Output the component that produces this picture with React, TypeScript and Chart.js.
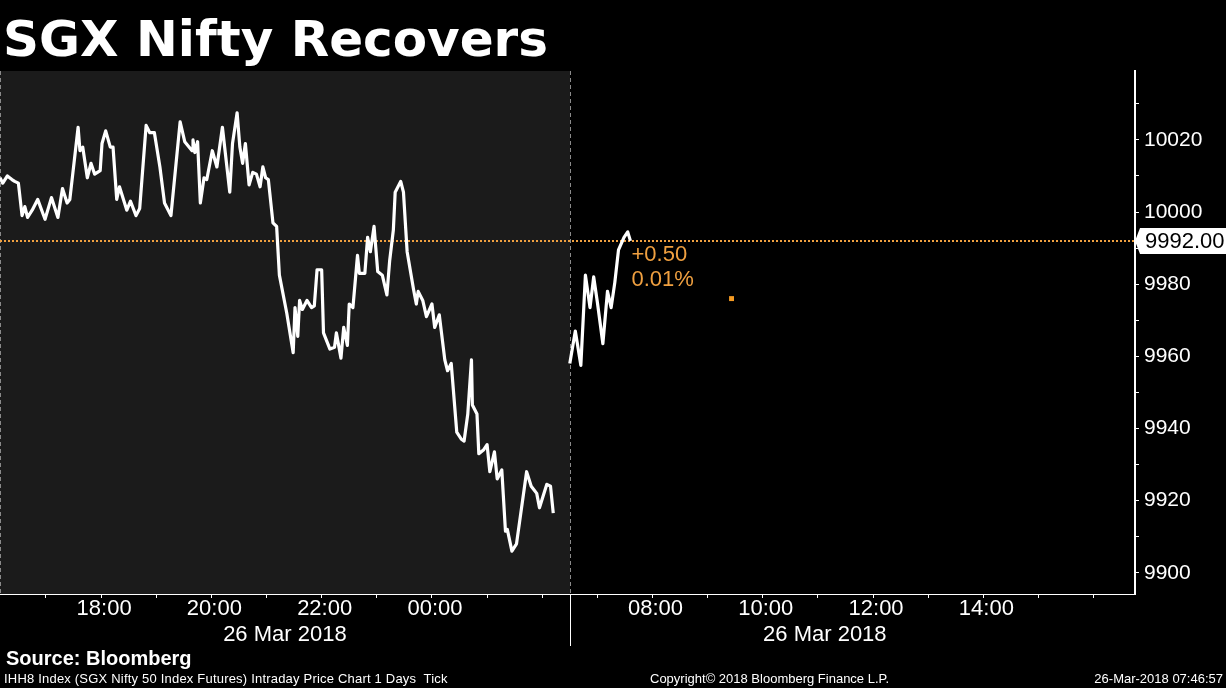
import React, { useEffect, useRef } from "react";
import { Chart, registerables } from "chart.js";

Chart.register(...registerables);

// ---------- text ----------
const TITLE = "SGX Nifty Recovers";
const SOURCE = "Source: Bloomberg";
const FOOT_LEFT = "IHH8 Index (SGX Nifty 50 Index Futures) Intraday Price Chart 1 Days  Tick";
const FOOT_MID = "Copyright\u00A9 2018 Bloomberg Finance L.P.";
const FOOT_RIGHT = "26-Mar-2018 07:46:57";
const SESSION_DATE = "26 Mar 2018";

// ---------- sessions (local time) ----------
const NIGHT_OPEN = "16:10";
const NIGHT_CLOSE = "02:30";
const DAY_OPEN = "06:30";
const DAY_CLOSE = "15:45";
const AXIS_END = "16:45";

// ---------- data ----------
const nightTimes = [
  "16:10", "16:13", "16:18", "16:23", "16:26", "16:30", "16:34", "16:37", "16:40", "16:45",
  "16:51", "16:59", "17:06", "17:13", "17:18", "17:23", "17:26", "17:35", "17:37", "17:40",
  "17:45", "17:49", "17:53", "17:59", "18:01", "18:05", "18:10", "18:13", "18:17", "18:20",
  "18:28", "18:32", "18:38", "18:42", "18:49", "18:53", "18:58", "19:04", "19:09", "19:16",
  "19:26", "19:31", "19:39", "19:40", "19:42", "19:45", "19:48", "19:52", "19:55", "20:01",
  "20:06", "20:12", "20:20", "20:23", "20:28", "20:31", "20:34", "20:37", "20:41", "20:45",
  "20:49", "20:53", "20:56", "20:59", "21:02", "21:07", "21:11", "21:14", "21:22", "21:29",
  "21:31", "21:34", "21:36", "21:39", "21:44", "21:49", "21:52", "21:55", "22:00", "22:02",
  "22:09", "22:14", "22:16", "22:21", "22:24", "22:28", "22:30", "22:34", "22:39", "22:41",
  "22:47", "22:50", "22:53", "22:57", "23:01", "23:06", "23:11", "23:14", "23:18", "23:20",
  "23:26", "23:29", "23:33", "23:40", "23:43", "23:45", "23:50", "23:54", "00:00", "00:03",
  "00:08", "00:14", "00:17", "00:21", "00:27", "00:32", "00:35", "00:39", "00:43", "00:44",
  "00:49", "00:51", "00:56", "01:00", "01:03", "01:08", "01:11", "01:16", "01:20", "01:22",
  "01:27", "01:32", "01:43", "01:48", "01:54", "01:57", "02:05", "02:09", "02:12",
];
const nightPrices = [
  10009.5, 10008, 10010, 10009, 10008.5, 10008, 9999, 10001.5, 9998.5, 10000.5,
  10003.5, 9998, 10004, 9998.5, 10006.5, 10002.5, 10003.5, 10023.5, 10017, 10018,
  10009.5, 10013.5, 10010.5, 10011.5, 10019, 10022.5, 10018, 10018, 10003.5, 10007,
  10000.5, 10003, 9999, 10001, 10024, 10022, 10022, 10012.5, 10002.5, 9999,
  10025, 10019.5, 10017, 10020, 10016.5, 10019.5, 10002.5, 10009.5, 10009, 10017,
  10012.5, 10023.5, 10005.5, 10019, 10027.5, 10018, 10013.5, 10019, 10007.5, 10011,
  10010.5, 10007, 10012.5, 10009.5, 10009, 9997, 9996, 9982.5, 9972, 9961,
  9973.5, 9965.5, 9975.5, 9973, 9975.5, 9973.5, 9974, 9984, 9984, 9966.5,
  9962, 9962.5, 9966.5, 9959.5, 9968, 9963, 9974.5, 9973.5, 9988, 9983,
  9983, 9993, 9989, 9996, 9983.5, 9982.5, 9977, 9986.5, 9995, 10005.5,
  10008.5, 10005.5, 9989, 9978.5, 9974.5, 9978, 9975.5, 9971, 9974.5, 9968,
  9971.5, 9959, 9956, 9958, 9939, 9937, 9936.5, 9944, 9959, 9946.5,
  9944, 9933, 9934, 9935.5, 9928, 9933.5, 9926, 9928.5, 9911.5, 9912,
  9906, 9908, 9928, 9924, 9922, 9918, 9924.5, 9924, 9916.5,
];
const dayTimes = [
  "06:30", "06:36", "06:42", "06:47", "06:52", "06:56", "07:00", "07:06",
  "07:11", "07:15", "07:19", "07:23", "07:29", "07:33", "07:36",
];
const dayPrices = [
  9958, 9967, 9957.5, 9982.5, 9973.5, 9982, 9975, 9963.5,
  9978, 9973.5, 9980.5, 9989.5, 9993, 9994.5, 9992,
];
const markerTimes = ["09:26"];
const markerPrices = [9976];

const lastPrice = 9992.0;
const changeAbs = "+0.50";
const changePct = "0.01%";

// ---------- axes ----------
const nightTickTimes = ["17:00", "18:00", "19:00", "20:00", "21:00", "22:00", "23:00", "00:00", "01:00", "02:00"];
const dayTickTimes = ["07:00", "08:00", "09:00", "10:00", "11:00", "12:00", "13:00", "14:00", "15:00", "16:00"];
const nightLabelTimes = ["18:00", "20:00", "22:00", "00:00"];
const dayLabelTimes = ["08:00", "10:00", "12:00", "14:00"];
const yTickValues = [9900, 9910, 9920, 9930, 9940, 9950, 9960, 9970, 9980, 9990, 10000, 10010, 10020, 10030];
const yLabelValues = [9900, 9920, 9940, 9960, 9980, 10000, 10020];
const Y_MIN = 9894.1;
const Y_MAX = 10039.1;

// ---------- style ----------
const W = 1226;
const H = 688;
const ORANGE = "#f0a040";
const AXIS_FONT = "'Liberation Sans', Arial, sans-serif";

// time -> compressed axis minutes (gap between sessions removed)
const toMin = (s: string) => {
  const [h, m] = s.split(":").map(Number);
  return h * 60 + m;
};
const nightX = (s: string) => {
  let d = toMin(s) - toMin(NIGHT_OPEN);
  if (d < 0) d += 1440;
  return d;
};
const NIGHT_LEN = nightX(NIGHT_CLOSE);
const dayX = (s: string) => NIGHT_LEN + toMin(s) - toMin(DAY_OPEN);

export default function App() {
  const ref = useRef<HTMLCanvasElement | null>(null);

  useEffect(() => {
    document.body.style.margin = "0";
    document.body.style.background = "#000";
    const canvas = ref.current;
    if (!canvas) return;

    const labelMap = new Map<number, string>();
    nightLabelTimes.forEach((t) => labelMap.set(nightX(t), t));
    dayLabelTimes.forEach((t) => labelMap.set(dayX(t), t));
    const xTicks = [...nightTickTimes.map(nightX), ...dayTickTimes.map(dayX)];

    const decor = {
      id: "decor",
      beforeDatasetsDraw(chart: any) {
        const { ctx, chartArea: a, scales } = chart;
        const x = scales.x;
        const y = scales.y;
        const gx = Math.round(x.getPixelForValue(NIGHT_LEN));
        ctx.save();
        ctx.fillStyle = "#1b1b1b";
        ctx.fillRect(a.left, a.top, gx - a.left, a.bottom - a.top);
        ctx.strokeStyle = "#8a8a8a";
        ctx.lineWidth = 1;
        ctx.setLineDash([4, 3]);
        for (const px of [a.left + 0.5, gx + 0.5]) {
          ctx.beginPath();
          ctx.moveTo(px, a.top);
          ctx.lineTo(px, a.bottom);
          ctx.stroke();
        }
        const ly = Math.round(y.getPixelForValue(lastPrice));
        ctx.setLineDash([2, 2]);
        ctx.strokeStyle = ORANGE;
        ctx.lineWidth = 2;
        ctx.beginPath();
        ctx.moveTo(a.left, ly);
        ctx.lineTo(a.right, ly);
        ctx.stroke();
        ctx.restore();
      },
      afterDraw(chart: any) {
        const { ctx, chartArea: a, scales } = chart;
        const x = scales.x;
        const y = scales.y;
        ctx.save();
        // session separator under the axis
        const gx = Math.round(x.getPixelForValue(NIGHT_LEN)) + 0.5;
        ctx.strokeStyle = "#fff";
        ctx.lineWidth = 1;
        ctx.beginPath();
        ctx.moveTo(gx, a.bottom);
        ctx.lineTo(gx, a.bottom + 52);
        ctx.stroke();
        // session dates
        ctx.fillStyle = "#fff";
        ctx.font = `22px ${AXIS_FONT}`;
        ctx.textAlign = "center";
        ctx.textBaseline = "alphabetic";
        const nMid = x.getPixelForValue(NIGHT_LEN / 2);
        const dMid = x.getPixelForValue((NIGHT_LEN + dayX(DAY_CLOSE)) / 2);
        ctx.fillText(SESSION_DATE, nMid, a.bottom + 47);
        ctx.fillText(SESSION_DATE, dMid, a.bottom + 47);
        // last price box
        const ly = Math.round(y.getPixelForValue(lastPrice));
        const r = a.right;
        ctx.fillStyle = "#fff";
        ctx.beginPath();
        ctx.moveTo(r, ly);
        ctx.lineTo(r + 5, ly - 13);
        ctx.lineTo(W, ly - 13);
        ctx.lineTo(W, ly + 13);
        ctx.lineTo(r + 5, ly + 13);
        ctx.closePath();
        ctx.fill();
        ctx.fillStyle = "#000";
        ctx.textAlign = "left";
        ctx.textBaseline = "middle";
        ctx.font = `22px ${AXIS_FONT}`;
        ctx.fillText(lastPrice.toFixed(2), r + 10, ly + 1);
        // change text
        const lx = x.getPixelForValue(dayX(dayTimes[dayTimes.length - 1]));
        ctx.fillStyle = ORANGE;
        ctx.fillText(changeAbs, lx + 1, ly + 14);
        ctx.fillText(changePct, lx + 1, ly + 39);
        ctx.restore();
      },
    };

    const chart = new Chart(canvas, {
      type: "line",
      data: {
        datasets: [
          {
            data: nightTimes.map((t, i) => ({ x: nightX(t), y: nightPrices[i] })),
            borderColor: "#ffffff",
            borderWidth: 3.2,
            pointRadius: 0,
            tension: 0,
            fill: false,
            borderJoinStyle: "round",
          },
          {
            data: dayTimes.map((t, i) => ({ x: dayX(t), y: dayPrices[i] })),
            borderColor: "#ffffff",
            borderWidth: 3.2,
            pointRadius: 0,
            tension: 0,
            fill: false,
            borderJoinStyle: "round",
          },
          {
            data: markerTimes.map((t, i) => ({ x: dayX(t), y: markerPrices[i] })),
            showLine: false,
            pointStyle: "rect",
            pointRadius: 3.5,
            pointBackgroundColor: "#f59b23",
            pointBorderWidth: 0,
            borderColor: "#f59b23",
          },
        ],
      } as any,
      options: {
        animation: false,
        responsive: false,
        maintainAspectRatio: false,
        devicePixelRatio: 1,
        layout: { autoPadding: false, padding: { top: 71, bottom: 42, left: 0, right: 0 } },
        plugins: { legend: { display: false }, tooltip: { enabled: false }, title: { display: false } },
        scales: {
          x: {
            type: "linear",
            min: 0,
            max: dayX(AXIS_END),
            afterBuildTicks: (s: any) => {
              s.ticks = xTicks.map((v) => ({ value: v }));
            },
            afterFit: (s: any) => {
              s.height = 52;
            },
            ticks: {
              autoSkip: false,
              maxRotation: 0,
              minRotation: 0,
              color: "#fff",
              padding: 0,
              labelOffset: 3,
              font: { family: AXIS_FONT, size: 22, lineHeight: 1 },
              callback: (v: any) => labelMap.get(Number(v)) ?? "",
            },
            grid: { drawOnChartArea: false, drawTicks: true, tickLength: 4, color: "#fff", lineWidth: 1 },
            border: { display: true, color: "#fff", width: 1 },
          },
          y: {
            type: "linear",
            position: "right",
            min: Y_MIN,
            max: Y_MAX,
            afterBuildTicks: (s: any) => {
              s.ticks = yTickValues.map((v) => ({ value: v }));
            },
            afterFit: (s: any) => {
              s.width = W - 1135;
            },
            ticks: {
              color: "#fff",
              padding: 5,
              font: { family: AXIS_FONT, size: 21 },
              callback: (v: any) => (yLabelValues.includes(Number(v)) ? String(v) : ""),
            },
            grid: { drawOnChartArea: false, drawTicks: true, tickLength: 4, color: "#fff", lineWidth: 1 },
            border: { display: true, color: "#fff", width: 2 },
          },
        },
      } as any,
      plugins: [decor],
    });
    return () => chart.destroy();
  }, []);

  const footStyle: React.CSSProperties = {
    position: "absolute",
    top: 672,
    lineHeight: "13px",
    fontFamily: AXIS_FONT,
    fontSize: 13,
    color: "#fff",
    whiteSpace: "pre",
  };

  return (
    <div style={{ position: "relative", width: W, height: H, background: "#000", overflow: "hidden" }}>
      <canvas ref={ref} width={W} height={H} style={{ position: "absolute", left: 0, top: 0, width: W, height: H }} />
      <div
        style={{
          position: "absolute",
          left: 3,
          top: 9,
          lineHeight: "60px",
          fontFamily: "'DejaVu Sans', Verdana, sans-serif",
          fontWeight: "bold",
          fontSize: 50,
          color: "#fff",
          whiteSpace: "nowrap",
        }}
      >
        {TITLE}
      </div>
      <div
        style={{
          position: "absolute",
          left: 6,
          top: 648,
          lineHeight: "20px",
          fontFamily: AXIS_FONT,
          fontWeight: "bold",
          fontSize: 20,
          color: "#fff",
          whiteSpace: "nowrap",
        }}
      >
        {SOURCE}
      </div>
      <div style={{ ...footStyle, left: 4, letterSpacing: "0.2px" }}>{FOOT_LEFT}</div>
      <div style={{ ...footStyle, left: 650 }}>{FOOT_MID}</div>
      <div style={{ ...footStyle, right: 3 }}>{FOOT_RIGHT}</div>
    </div>
  );
}
